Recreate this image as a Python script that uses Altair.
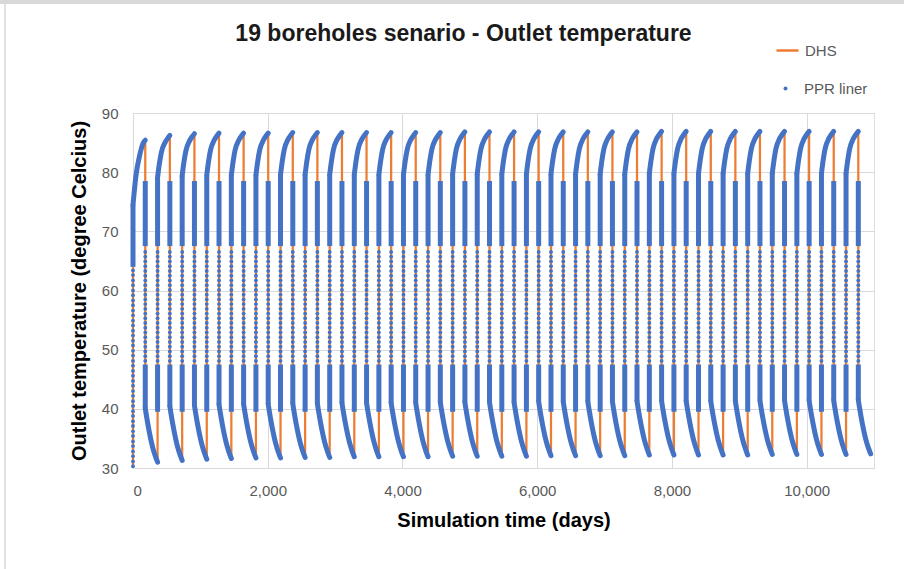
import altair as alt
import pandas as pd

# ---------------- data ----------------
N_CYCLES = 30
CYCLE_DAYS = 365          # one storage year
CHARGE_DAYS = 182         # charging period, peak reached at day 182 of each year

# peak outlet temperature of every cycle (deg C)
PEAK_TEMPS = [85.4, 86.2, 86.5, 86.6, 86.6, 86.6, 86.7, 86.7, 86.7, 86.7,
              86.7, 86.7, 86.7, 86.8, 86.8, 86.8, 86.8, 86.8, 86.8, 86.8,
              86.8, 86.9, 86.9, 86.9, 86.9, 86.9, 86.9, 86.9, 86.9, 86.9]
# outlet temperature at the end of every discharge period (deg C)
TROUGH_TEMPS = [31.0, 31.3, 31.5, 31.6, 31.7, 31.7, 31.8, 31.8, 31.9, 31.9,
                31.9, 31.9, 32.0, 32.0, 32.0, 32.0, 32.1, 32.1, 32.1, 32.1,
                32.2, 32.2, 32.2, 32.2, 32.2, 32.3, 32.3, 32.3, 32.3, 32.4]

# first charging period (days from start, temp)
FIRST_CHARGE_OFFSETS = [0, 45, 100, 150, 182]
FIRST_CHARGE_TEMPS = [74.5, 79.5, 82.9, 84.9, 85.4]
# typical charging period (days from start of year, temp), peak 86.6
CHARGE_OFFSETS = [0, 25, 55, 110, 155, 182]
CHARGE_TEMPS = [79.5, 81.7, 83.7, 85.4, 86.2, 86.6]
# typical discharge period (days from peak, temp), end 31.9
DECAY_OFFSETS = [0, 15, 60, 110, 150, 183]
DECAY_TEMPS = [41.0, 39.9, 37.0, 34.4, 32.9, 31.9]

# PPR liner samples during the fast switches (deg C)
START_TEMP = 30.3
FIRST_DENSE = [64.0, 74.5]
FIRST_SPARSE = [30.3, 31.1, 32.0, 32.8, 33.7, 34.5, 35.4, 36.2, 37.1, 37.9,
                38.8, 39.6, 40.5, 41.3, 42.2, 43.0, 43.9, 44.7, 45.6, 46.4,
                47.3, 48.1, 49.0, 49.8, 50.7, 51.5, 52.4, 53.2, 54.1, 54.9,
                55.8, 56.6, 57.5, 58.3, 59.2, 60.0, 60.9, 61.7, 62.6, 63.4]
DROP_DENSE_HI = [78.5, 67.5]
DROP_DENSE_LO = [47.5]
RISE_DENSE_LO = [39.5, 47.5]
RISE_DENSE_HI = [67.5]
SPARSE_LEVELS = [48.1, 48.9, 49.7, 50.5, 51.3, 52.1, 52.9, 53.7, 54.5, 55.3,
                 56.1, 56.9, 57.7, 58.5, 59.3, 60.1, 60.9, 61.7, 62.5, 63.3,
                 64.1, 64.9, 65.7, 66.5]

X_TICKS = [0, 2000, 4000, 6000, 8000, 10000]
Y_TICKS = [30, 40, 50, 60, 70, 80, 90]

ORANGE = "#ED7D31"
BLUE = "#4472C4"
GRID = "#D9D9D9"

# ---------------- build tables ----------------
dhs_curve, dhs_vert, ppr_curve, ppr_dense, ppr_dots = [], [], [], [], []
seg = [0]


def add(lst, pts, series):
    for i, (d, t) in enumerate(pts):
        lst.append({"seg": seg[0], "i": i, "day": d, "temp": t, "series": series})
    seg[0] += 1


def add_dots(day, levels):
    for t in levels:
        ppr_dots.append({"day": day, "temp": t, "series": "PPR liner"})


add(dhs_vert, [(0, START_TEMP), (0, FIRST_CHARGE_TEMPS[0])], "DHS")
add(ppr_dense, [(0, FIRST_DENSE[0]), (0, FIRST_DENSE[1])], "PPR liner")
add_dots(0, FIRST_SPARSE)

for k in range(N_CYCLES):
    start = k * CYCLE_DAYS
    peak_day = start + CHARGE_DAYS
    end_day = (k + 1) * CYCLE_DAYS
    if k == 0:
        charge = [(start + o, t) for o, t in zip(FIRST_CHARGE_OFFSETS, FIRST_CHARGE_TEMPS)]
    else:
        sh = PEAK_TEMPS[k] - CHARGE_TEMPS[-1]
        charge = [(start + o, t + sh) for o, t in zip(CHARGE_OFFSETS, CHARGE_TEMPS)]
    dsh = TROUGH_TEMPS[k] - DECAY_TEMPS[-1]
    decay = [(peak_day + o, t + dsh) for o, t in zip(DECAY_OFFSETS, DECAY_TEMPS)]

    add(dhs_curve, charge, "DHS")
    add(ppr_curve, charge, "PPR liner")
    add(dhs_vert, [(peak_day, charge[-1][1]), (peak_day, decay[0][1])], "DHS")
    add(ppr_dense, [(peak_day, DROP_DENSE_HI[0]), (peak_day, DROP_DENSE_HI[1])], "PPR liner")
    add(ppr_dense, [(peak_day, DROP_DENSE_LO[0]), (peak_day, decay[0][1])], "PPR liner")
    add_dots(peak_day, SPARSE_LEVELS)
    add(dhs_curve, decay, "DHS")
    add(ppr_curve, decay, "PPR liner")
    if k < N_CYCLES - 1:
        nxt = CHARGE_TEMPS[0] + PEAK_TEMPS[k + 1] - CHARGE_TEMPS[-1]
        add(dhs_vert, [(end_day, decay[-1][1]), (end_day, nxt)], "DHS")
        add(ppr_dense, [(end_day, RISE_DENSE_LO[0]), (end_day, RISE_DENSE_LO[1])], "PPR liner")
        add(ppr_dense, [(end_day, RISE_DENSE_HI[0]), (end_day, nxt)], "PPR liner")
        add_dots(end_day, SPARSE_LEVELS)

df_dhs_curve = pd.DataFrame(dhs_curve)
df_dhs_vert = pd.DataFrame(dhs_vert)
df_ppr_curve = pd.DataFrame(ppr_curve)
df_ppr_dense = pd.DataFrame(ppr_dense)
df_ppr_dots = pd.DataFrame(ppr_dots)

# ---------------- encodings ----------------
FONT = "Liberation Sans"
X_ENC = alt.X("day:Q",
              scale=alt.Scale(domain=[0, 11000], nice=False, zero=False),
              axis=alt.Axis(values=X_TICKS, format=",.0f", title="Simulation time (days)",
                            grid=True, gridColor=GRID, gridWidth=1, domain=False,
                            ticks=False, tickSize=0, labelFontSize=15, labelColor="#595959",
                            labelFont=FONT, labelPadding=15, titleFont=FONT,
                            titleFontSize=20, titleFontWeight="bold", titleColor="#000000",
                            titlePadding=12))
Y_ENC = alt.Y("temp:Q",
              scale=alt.Scale(domain=[30, 90], nice=False, zero=False),
              axis=alt.Axis(values=Y_TICKS, title="Outlet temperature (degree Celcius)",
                            grid=True, gridColor=GRID, gridWidth=1, domain=False,
                            ticks=False, tickSize=0, labelFontSize=15, labelColor="#595959",
                            labelFont=FONT, labelPadding=15, titleFont=FONT,
                            titleFontSize=20, titleFontWeight="bold", titleColor="#000000",
                            titlePadding=12))

color_dhs = alt.Color("series:N", scale=alt.Scale(domain=["DHS"], range=[ORANGE]),
                      legend=alt.Legend(orient="none", legendX=642, legendY=-75, title=None,
                                        symbolType="stroke", symbolSize=484,
                                        symbolStrokeWidth=2.5, labelFontSize=15,
                                        labelFont=FONT, labelColor="#595959", labelOffset=5))
fill_ppr = alt.Fill("series:N", scale=alt.Scale(domain=["PPR liner"], range=[BLUE]),
                    legend=alt.Legend(orient="none", legendX=645, legendY=-32, title=None,
                                      symbolType="circle", symbolSize=16, symbolStrokeWidth=0,
                                      symbolOpacity=1, labelFontSize=15, labelFont=FONT,
                                      labelColor="#595959", labelOffset=11))

frame = pd.DataFrame({"a": [0]})
top_strip = alt.Chart(frame).mark_rect(color="#D9D9D9").encode(
    x=alt.value(-133), x2=alt.value(771), y=alt.value(-113), y2=alt.value(-109))
left_line = alt.Chart(frame).mark_rule(color="#D9D9D9", strokeWidth=1.5).encode(
    x=alt.value(-128), y=alt.value(-109), y2=alt.value(456))

dhs_v = alt.Chart(df_dhs_vert).mark_line(strokeWidth=2.25, strokeCap="butt").encode(
    x=X_ENC, y=Y_ENC, color=color_dhs, detail="seg:N", order="i:Q")
dhs_c = alt.Chart(df_dhs_curve).mark_line(strokeWidth=2.25, interpolate="monotone").encode(
    x=X_ENC, y=Y_ENC, color=color_dhs, detail="seg:N", order="i:Q")
ppr_c = alt.Chart(df_ppr_curve).mark_line(strokeWidth=5, interpolate="monotone",
                                          strokeCap="round", color=BLUE).encode(
    x=X_ENC, y=Y_ENC, detail="seg:N", order="i:Q")
ppr_d = alt.Chart(df_ppr_dense).mark_line(strokeWidth=5, strokeCap="butt", color=BLUE).encode(
    x=X_ENC, y=Y_ENC, detail="seg:N", order="i:Q")
ppr_p = alt.Chart(df_ppr_dots).mark_circle(size=15, opacity=1).encode(
    x=X_ENC, y=Y_ENC, fill=fill_ppr)

chart = alt.layer(top_strip, left_line, dhs_v, dhs_c, ppr_c, ppr_d, ppr_p).properties(
    width=741, height=355,
    title=alt.Title("19 boreholes senario - Outlet temperature", font=FONT, fontSize=23,
                    fontWeight="bold", color="#1A1A1A", anchor="middle", dx=-40,
                    offset=-46),
    autosize=alt.AutoSizeParams(type="none"),
    padding={"left": 133, "top": 113, "right": 30, "bottom": 101},
).configure_view(stroke=None).configure(background="white")

chart.save("out.html", embed_options={"renderer": "svg", "actions": False})
